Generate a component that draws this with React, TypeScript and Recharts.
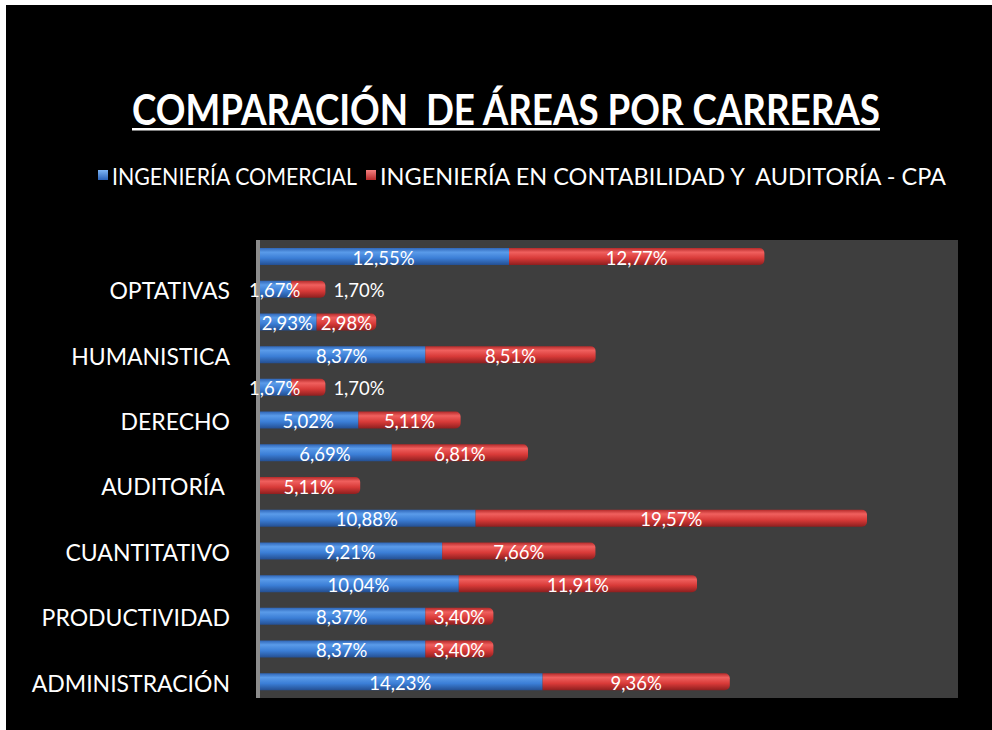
import React from 'react';
import { BarChart, Bar, XAxis, YAxis, CartesianGrid, LabelList } from 'recharts';

const rowKeys = ['r1', 'r2', 'r3', 'r4', 'r5', 'r6', 'r7', 'r8', 'r9', 'r10', 'r11', 'r12', 'r13', 'r14'];
const rowLabels = ['', 'OPTATIVAS', '', 'HUMANISTICA', '', 'DERECHO', '', 'AUDITORÍA ', '', 'CUANTITATIVO', '', 'PRODUCTIVIDAD', '', 'ADMINISTRACIÓN'];
const comercial = [12.55, 1.67, 2.93, 8.37, 1.67, 5.02, 6.69, 0, 10.88, 9.21, 10.04, 8.37, 8.37, 14.23];
const contabilidad = [12.77, 1.7, 2.98, 8.51, 1.7, 5.11, 6.81, 5.11, 19.57, 7.66, 11.91, 3.4, 3.4, 9.36];
const seriesNames = ['INGENIERÍA COMERCIAL', 'INGENIERÍA EN CONTABILIDAD Y  AUDITORÍA - CPA'];
const title = 'COMPARACIÓN  DE ÁREAS POR CARRERAS';
const xDomain = [0, 35];

const data = rowKeys.map((k, i) => ({ key: k, label: rowLabels[i], com: comercial[i], cpa: contabilidad[i] }));
const labelByKey: Record<string, string> = {};
rowKeys.forEach((k, i) => (labelByKey[k] = rowLabels[i]));

const FONT = 'Lato, "Open Sans", sans-serif';
const fmt = (v: number) => v.toFixed(2).replace('.', ',') + '%';

const Tick = (props: any) => {
  const { x, y, payload } = props;
  return (
    <text x={x} y={y + 1} textAnchor="end" dominantBaseline="central" fill="#ffffff" fontSize={23} fontFamily={FONT} style={{ whiteSpace: 'pre' }}>
      {labelByKey[payload.value]}
    </text>
  );
};

const BlueLabel = (props: any) => {
  const { x, y, width, height, value } = props;
  if (!value) return null;
  return (
    <text x={x + width / 2} y={y + height / 2 + 1} textAnchor="middle" dominantBaseline="central" fill="#ffffff" fontSize={18.5} fontFamily={FONT}>
      {fmt(value)}
    </text>
  );
};

const RedLabel = (props: any) => {
  const { x, y, width, height, value } = props;
  if (!value) return null;
  const small = width < 45;
  return (
    <text
      x={small ? x + width + 8 : x + width / 2}
      y={y + height / 2 + 1}
      textAnchor={small ? 'start' : 'middle'}
      dominantBaseline="central"
      fill="#ffffff"
      fontSize={18.5}
      fontFamily={FONT}
    >
      {fmt(value)}
    </text>
  );
};

export default function App() {
  return (
    <div style={{ position: 'absolute', left: 6, top: 5, width: 986, height: 725, background: '#000', overflow: 'hidden' }}>
      <BarChart
        width={986}
        height={725}
        data={data}
        layout="vertical"
        margin={{ top: 235, right: 34, bottom: 32, left: 0 }}
        barSize={17}
      >
        <defs>
          <linearGradient id="gBlue" x1="0" y1="0" x2="0" y2="1">
            <stop offset="0%" stopColor="#2f66b8" />
            <stop offset="25%" stopColor="#5a9be9" />
            <stop offset="60%" stopColor="#3b7ed6" />
            <stop offset="100%" stopColor="#244f92" />
          </linearGradient>
          <linearGradient id="gRed" x1="0" y1="0" x2="0" y2="1">
            <stop offset="0%" stopColor="#b52a2a" />
            <stop offset="25%" stopColor="#f0605e" />
            <stop offset="60%" stopColor="#d83a38" />
            <stop offset="100%" stopColor="#8e1f1f" />
          </linearGradient>
        </defs>
        <CartesianGrid fill="#3e3e3e" horizontal={false} vertical={false} />
        <XAxis type="number" domain={xDomain} hide />
        <YAxis
          type="category"
          dataKey="key"
          width={252}
          interval={0}
          tickLine={false}
          tickMargin={22}
          axisLine={{ stroke: '#8c8c8c', strokeWidth: 4 }}
          tick={<Tick />}
        />
        <Bar dataKey="com" name={seriesNames[0]} stackId="a" fill="url(#gBlue)" isAnimationActive={false}>
          <LabelList dataKey="com" content={<BlueLabel />} />
        </Bar>
        <Bar dataKey="cpa" name={seriesNames[1]} stackId="a" fill="url(#gRed)" radius={[0, 5, 5, 0]} isAnimationActive={false}>
          <LabelList dataKey="cpa" content={<RedLabel />} />
        </Bar>
      </BarChart>
      <svg width={986} height={230} style={{ position: 'absolute', left: 0, top: 0, pointerEvents: 'none' }}>
        <defs>
          <linearGradient id="lgBlue" x1="0" y1="0" x2="0" y2="1">
            <stop offset="0%" stopColor="#7fb6f5" />
            <stop offset="100%" stopColor="#2a62b8" />
          </linearGradient>
          <linearGradient id="lgRed" x1="0" y1="0" x2="0" y2="1">
            <stop offset="0%" stopColor="#f58080" />
            <stop offset="100%" stopColor="#b82a2a" />
          </linearGradient>
        </defs>
        <text
          x={126}
          y={120}
          fill="#ffffff"
          fontSize={42}
          fontWeight={700}
          fontFamily={FONT}
          textLength={748}
          lengthAdjust="spacingAndGlyphs"
          style={{ whiteSpace: 'pre' }}
        >
          {title}
        </text>
        <rect x={126} y={123} width={748} height={2.5} fill="#ffffff" />
        <rect x={92} y={165} width={10} height={10} fill="url(#lgBlue)" />
        <text x={106} y={180} fill="#ffffff" fontSize={23} fontFamily={FONT} textLength={245} lengthAdjust="spacingAndGlyphs">
          {seriesNames[0]}
        </text>
        <rect x={360} y={165} width={10} height={10} fill="url(#lgRed)" />
        <text x={374} y={180} fill="#ffffff" fontSize={23} fontFamily={FONT} textLength={566} lengthAdjust="spacingAndGlyphs" style={{ whiteSpace: 'pre' }}>
          {seriesNames[1]}
        </text>
      </svg>
    </div>
  );
}
